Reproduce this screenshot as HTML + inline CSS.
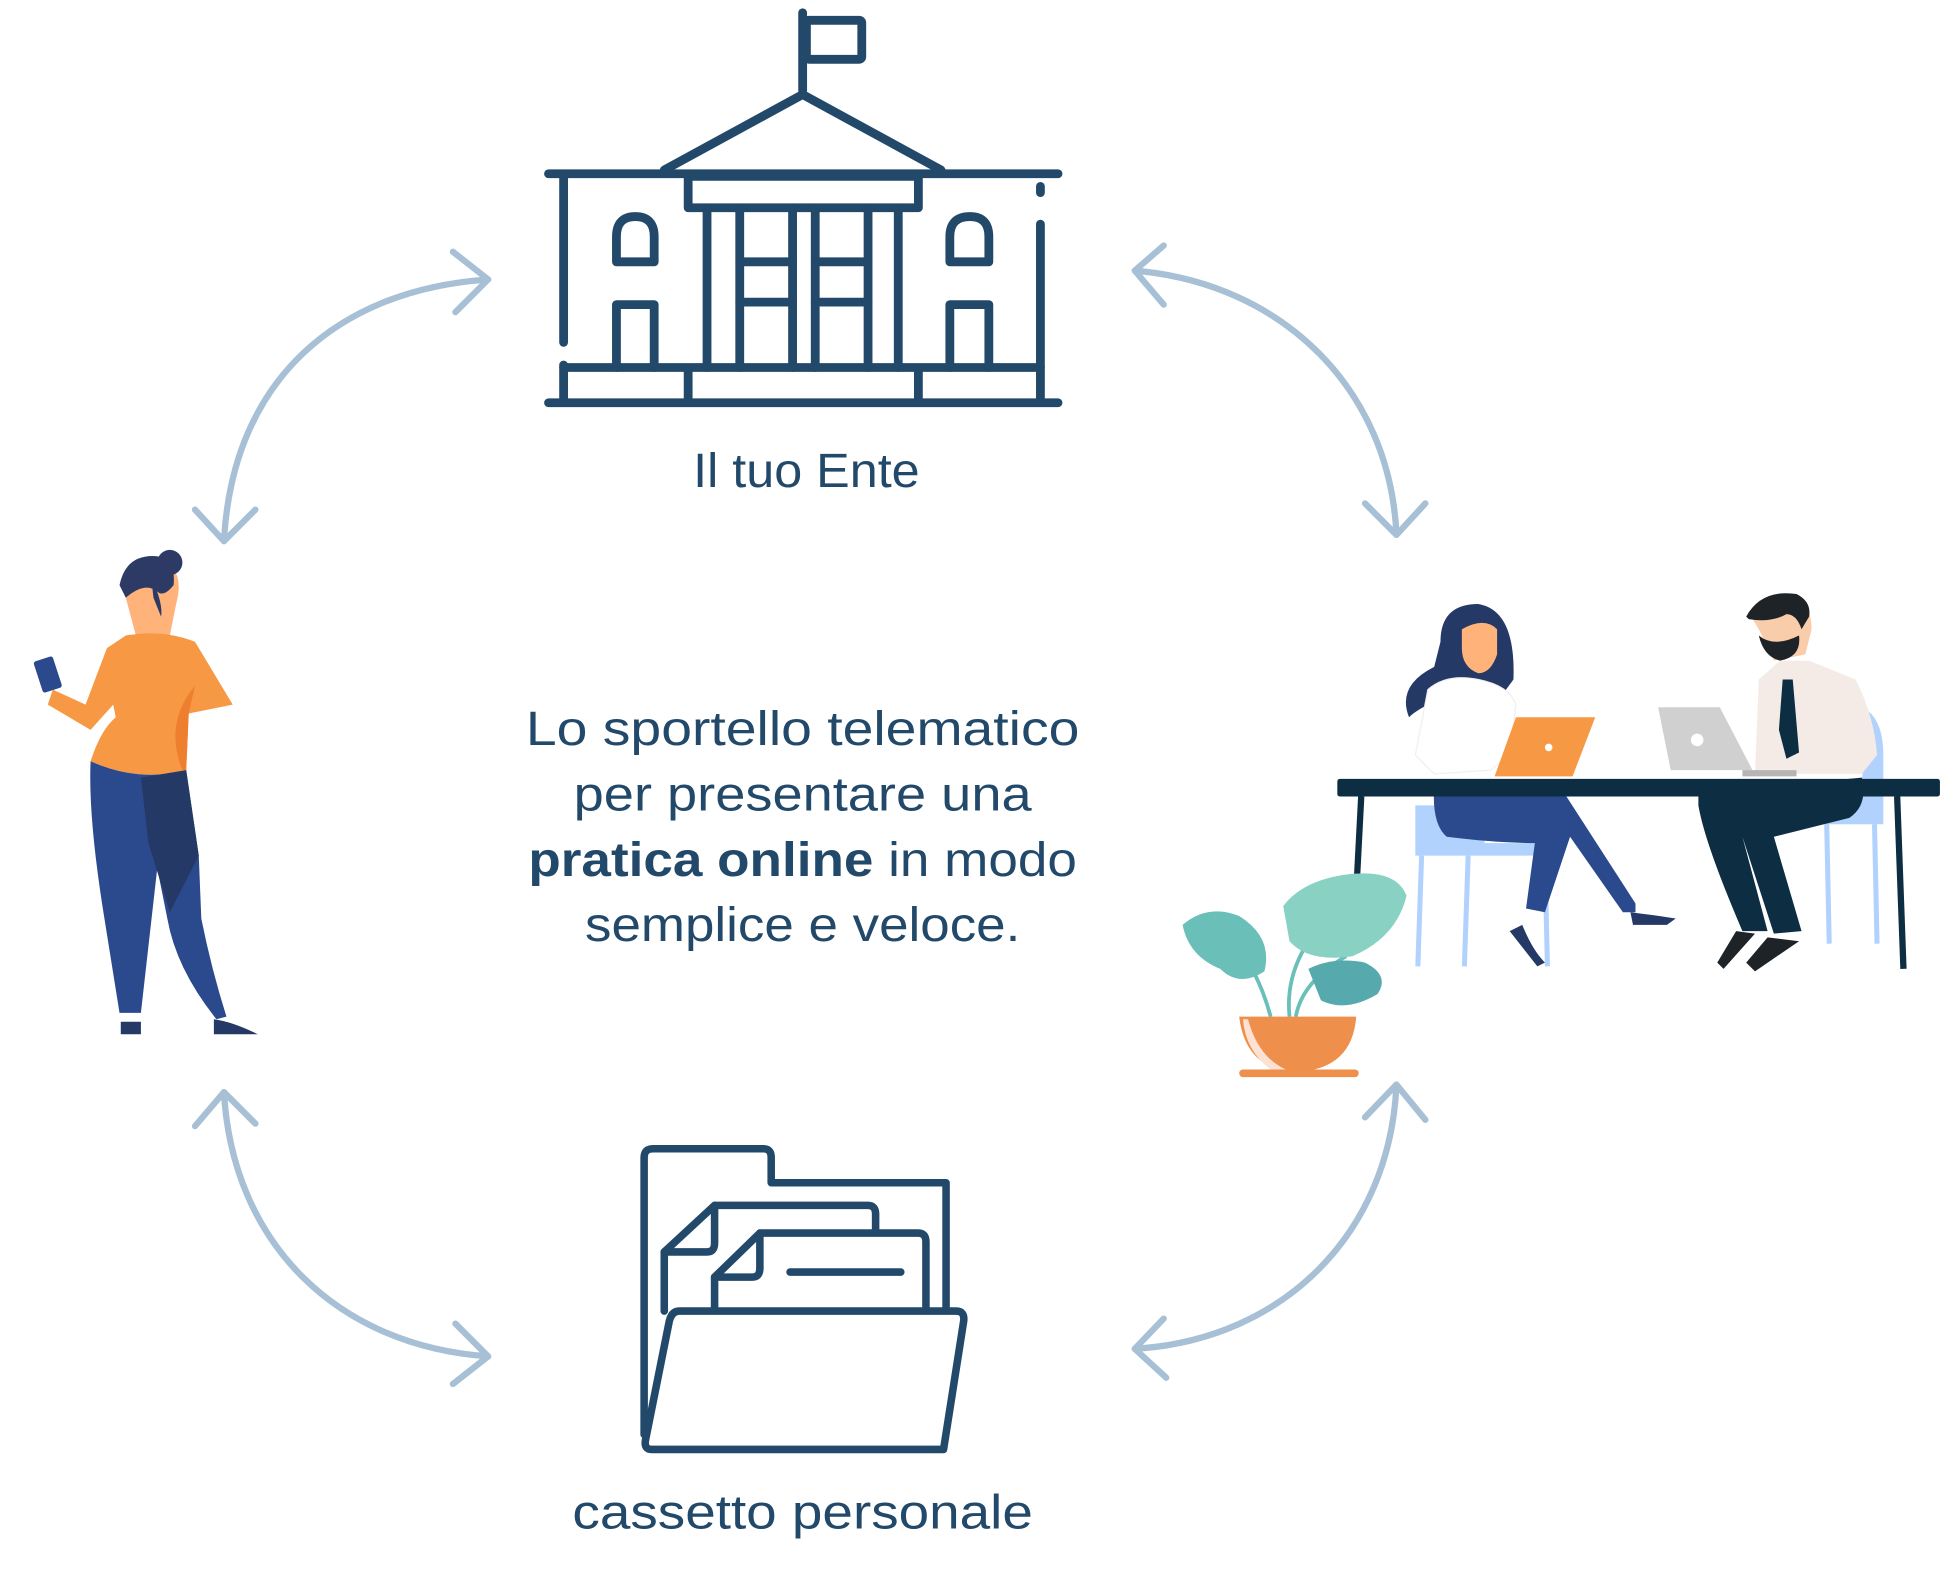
<!DOCTYPE html>
<html><head><meta charset="utf-8"><style>
html,body{margin:0;padding:0;background:#fff;}
svg{display:block}
text{font-family:"Liberation Sans",sans-serif;fill:#23496a}
</style></head><body>
<svg width="1950" height="1588" viewBox="0 0 1550 1262" xmlns="http://www.w3.org/2000/svg">
<!-- arrows -->
<g fill="none" stroke="#a7c0d6" stroke-width="5" stroke-linecap="round" stroke-linejoin="round">
<path d="M388,222 C270,230 185,300 178,430"/>
<path d="M360,200 L388,222 L362,248"/><path d="M155,405 L178,430 L203,405"/>
<path d="M902,215 C1020,225 1105,310 1110,425"/>
<path d="M925,195 L902,215 L925,242"/><path d="M1085,400 L1110,425 L1133,400"/>
<path d="M178,868 C185,990 270,1070 388,1078"/>
<path d="M155,895 L178,868 L203,893"/><path d="M362,1052 L388,1078 L360,1100"/>
<path d="M1110,862 C1105,980 1020,1065 902,1072"/>
<path d="M1085,888 L1110,862 L1133,890"/><path d="M925,1048 L902,1072 L927,1095"/>
</g>
<!-- building -->
<g fill="none" stroke="#23496a" stroke-width="7" stroke-linecap="round" stroke-linejoin="round">
<path d="M638,10 V72"/><rect x="641" y="16" width="44" height="31" rx="2"/>
<path d="M528,135 L638,75 L748,135"/>
<path d="M436,138 H841"/>
<rect x="547" y="140" width="183" height="25"/>
<path d="M448,140 V272 M448,290 V318 M827,148 V153 M827,178 V318"/>
<path d="M562,165 V292 M588,165 V292 M630,165 V292 M648,165 V292 M690,165 V292 M714,165 V292"/>
<path d="M588,208 H630 M588,240 H630 M648,208 H690 M648,240 H690"/>
<path d="M490,208 V188 Q490,172 505,172 Q520,172 520,188 V208 Z"/>
<path d="M755,208 V188 Q755,172 771,172 Q786,172 786,188 V208 Z"/>
<path d="M490,292 V242 H520 V292 M755,292 V242 H786 V292"/>
<path d="M448,292 H827 M436,320 H841 M547,292 V320 M730,292 V320"/>
</g>
<text x="641" y="387" font-size="38" text-anchor="middle" textLength="180" lengthAdjust="spacingAndGlyphs">Il tuo Ente</text>
<!-- central text -->
<g font-size="38" text-anchor="middle">
<text x="638" y="592" textLength="440" lengthAdjust="spacingAndGlyphs">Lo sportello telematico</text>
<text x="638" y="644" textLength="364" lengthAdjust="spacingAndGlyphs">per presentare una</text>
<text x="638" y="696" textLength="436" lengthAdjust="spacingAndGlyphs"><tspan font-weight="bold">pratica online</tspan> in modo</text>
<text x="638" y="748" textLength="346" lengthAdjust="spacingAndGlyphs">semplice e veloce.</text>
</g>
<!-- folder -->
<g fill="none" stroke="#23496a" stroke-width="6" stroke-linejoin="round" stroke-linecap="round">
<path d="M515,1135 L512,1140 V920 Q512,913 519,913 H607 Q613,913 613,920 V940 H752 V1042"/>
<path d="M528,1042 V995 L568,958 H690 Q696,958 696,965 V978"/>
<path d="M528,995 H562 Q568,995 568,988 V958"/>
<path d="M568,1042 V1015 L604,980 H730 Q736,980 736,987 V1042"/>
<path d="M568,1015 H598 Q604,1015 604,1008 V980"/>
<path d="M628,1011 H716"/>
<path d="M540,1042 H760 Q767,1042 766,1050 L750,1152 H518 Q512,1152 513,1145 L532,1050 Q534,1042 540,1042 Z" fill="#fff"/>
</g>
<text x="638" y="1215" font-size="38" text-anchor="middle" textLength="366" lengthAdjust="spacingAndGlyphs">cassetto personale</text>
<!-- left woman -->
<g>
<path d="M100,475 Q95,445 125,445 Q148,450 140,480 L135,505 H108 Z" fill="#ffb27a"/>
<path d="M95,465 Q100,440 125,442 Q140,445 138,465 Q130,475 125,470 Q115,462 100,475 Z" fill="#2e3a66"/>
<circle cx="135" cy="447" r="10" fill="#2e3a66"/>
<path d="M120,458 Q130,480 128,490 L122,475 Z" fill="#2e3a66"/>
<path d="M100,505 Q130,500 155,510 L185,560 L150,567 L148,612 Q110,622 72,605 Q80,580 92,570 L90,560 L72,580 L38,560 L42,548 L68,560 L85,515 Z" fill="#f79845"/>
<path d="M155,545 Q130,575 145,612 L148,612 L150,567 Z" fill="#ed7f2e"/>
<rect x="30" y="523" width="16" height="26" rx="2" fill="#2b4a8d" transform="rotate(-18 38 536)"/>
<path d="M72,605 Q110,622 148,612 L158,680 L160,730 Q168,770 180,808 L172,810 Q140,770 133,730 L125,690 L112,805 L95,805 L83,730 Q70,650 72,605 Z" fill="#2b4a8d"/>
<path d="M112,618 L148,612 L158,680 L135,725 L118,670 Z" fill="#253966"/>
<path d="M96,812 H112 V822 H96 Z M170,810 Q185,812 205,822 H170 Z" fill="#253966"/>
</g>
<!-- office -->
<g>
<!-- chairs -->
<path d="M1125,660 V640 L1180,640 V670 H1235 V680 H1125 Z" fill="#b0d2fc"/>
<path d="M1130,680 L1127,768 M1167,680 L1164,768 M1228,680 L1230,768" stroke="#b0d2fc" stroke-width="4"/>
<path d="M1485,565 Q1497,575 1497,600 V655 H1440 V635 L1480,620 Z" fill="#b0d2fc"/>
<path d="M1452,655 L1454,750 M1490,655 L1492,750" stroke="#b0d2fc" stroke-width="4"/>
<!-- woman -->
<path d="M1145,510 Q1145,480 1175,480 Q1205,485 1203,540 L1192,555 L1170,545 Q1130,560 1120,570 Q1110,545 1140,530 Z" fill="#253966"/>
<path d="M1162,500 Q1180,490 1190,500 V520 Q1185,535 1175,535 Q1162,530 1162,515 Z" fill="#ffb27a"/>
<path d="M1135,548 Q1150,535 1175,540 Q1200,545 1205,560 L1200,600 L1185,612 L1140,615 L1125,600 Z" fill="#fff" stroke="#f0f0f0"/>
<path d="M1205,570 H1268 L1250,617 H1188 Z" fill="#f79845"/>
<circle cx="1231" cy="594" r="3" fill="#fff"/>
<path d="M1140,625 H1240 L1300,718 L1300,725 L1290,725 L1248,665 L1228,725 L1213,722 L1220,670 Q1190,670 1150,665 Q1138,655 1140,625 Z" fill="#2b4a8d"/>
<path d="M1296,725 Q1320,728 1332,730 L1325,735 H1298 Z M1200,740 L1210,735 Q1218,755 1228,765 L1222,768 Z" fill="#253966"/>
<!-- man -->
<path d="M1392,490 Q1405,470 1425,472 Q1440,480 1440,500 L1435,520 L1410,525 L1398,500 Z" fill="#f9ccaa"/>
<path d="M1388,490 Q1400,468 1428,472 Q1440,478 1438,490 L1432,500 Q1428,488 1420,488 Q1408,495 1390,492 Z" fill="#1e2327"/>
<path d="M1398,505 Q1410,515 1430,505 Q1432,522 1415,525 Q1402,522 1398,505 Z" fill="#1e2327"/>
<path d="M1398,540 L1415,525 L1438,525 L1475,540 Q1490,570 1492,600 L1480,615 H1395 Z" fill="#f5ebe6"/>
<path d="M1417,540 H1425 L1430,598 L1420,603 L1414,580 Z" fill="#0d2d43"/>
<path d="M1318,562 H1367 L1393,612 H1328 Z" fill="#d0d0d0"/>
<path d="M1385,612 H1428 V617 H1385 Z" fill="#b5b5b5"/>
<circle cx="1349" cy="588" r="5" fill="#fff"/>
<path d="M1350,630 L1480,618 Q1485,640 1470,650 L1410,665 L1432,740 L1410,742 L1385,665 L1405,740 L1385,740 Q1355,670 1350,640 Z" fill="#0d2d43"/>
<path d="M1380,740 L1395,742 L1370,770 L1365,765 Z M1405,745 L1430,748 L1395,772 L1388,765 Z" fill="#1e2327"/>
<!-- table -->
<rect x="1063" y="619" width="479" height="14" rx="2" fill="#0d2d43"/>
<path d="M1082,633 L1078,710 M1508,633 L1513,770" stroke="#0d2d43" stroke-width="5"/>
<!-- plant -->
<path d="M1010,808 Q1000,770 975,740 M1025,808 Q1020,760 1065,720 M1030,808 Q1035,780 1070,760" stroke="#6abfb8" stroke-width="3" fill="none"/>
<path d="M940,735 Q960,718 985,728 Q1012,745 1005,772 Q985,785 970,770 Q945,760 940,735 Z" fill="#6abfb8"/>
<path d="M1020,720 Q1035,700 1070,695 Q1110,690 1118,712 Q1110,745 1075,760 Q1040,765 1025,748 Z" fill="#89d1c3"/>
<path d="M1040,770 Q1060,760 1085,765 Q1105,775 1095,790 Q1070,805 1050,795 Z" fill="#56a9ad"/>
<path d="M985,808 H1078 Q1075,850 1030,852 Q990,850 985,808 Z" fill="#ee8f4b"/>
<path d="M992,810 Q1000,840 1022,850 L1010,850 Q990,835 988,810 Z" fill="#fde2d4"/>
<rect x="985" y="850" width="95" height="6" rx="3" fill="#ee8f4b"/>
</g>
</svg>
</body></html>
